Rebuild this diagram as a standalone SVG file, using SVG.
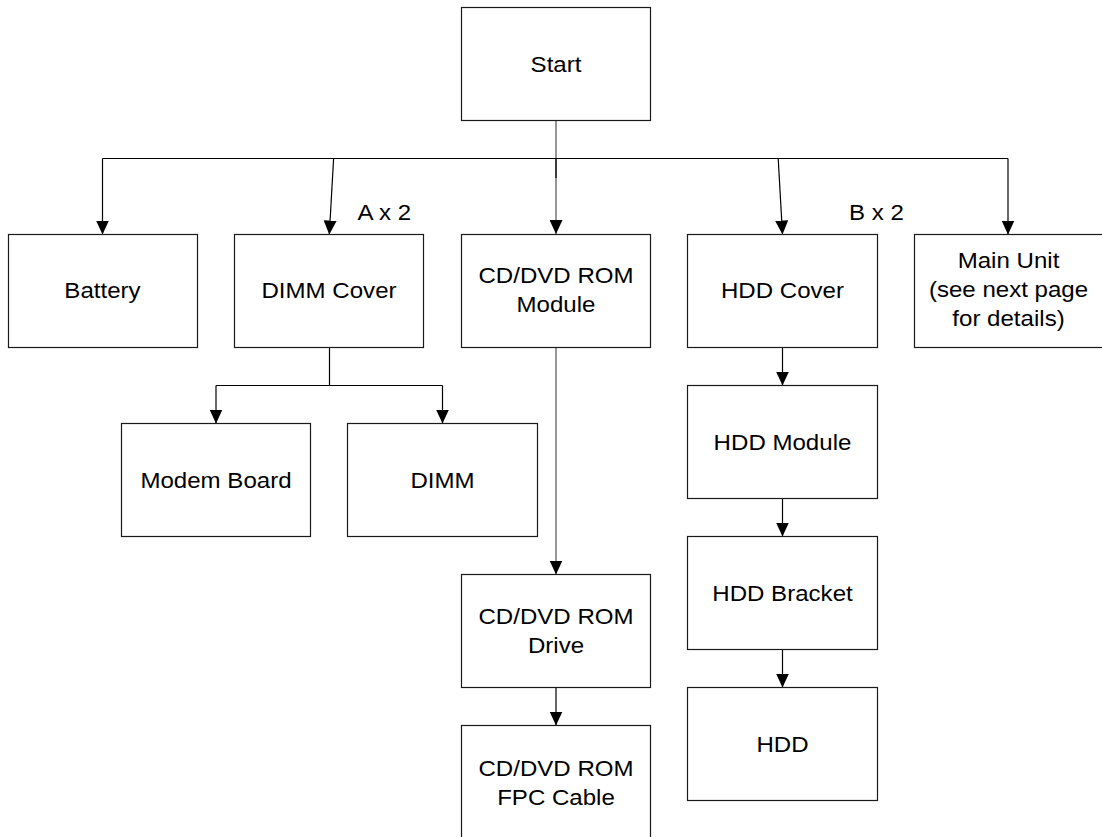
<svg xmlns="http://www.w3.org/2000/svg" width="1102" height="837" viewBox="0 0 1102 837">
<style>
.box{fill:#fff;stroke:#1a1a1a;stroke-width:1.2}
.lbl{font-family:"Liberation Sans",Arial,sans-serif;font-size:21.5px;fill:#000;text-anchor:middle}
.note{font-family:"Liberation Sans",Arial,sans-serif;font-size:21.5px;fill:#000}
.ln{fill:none;stroke:#000;stroke-width:1.2}
.lg{fill:none;stroke:#6a6a6a;stroke-width:1.4}
</style>
<defs>
<marker id="ah" viewBox="0 0 14 13" refX="14" refY="6.5" markerWidth="14" markerHeight="13" markerUnits="userSpaceOnUse" orient="auto">
<path d="M0,0 L14,6.5 L0,13 z" fill="#000"/>
</marker>
</defs>
<rect width="1102" height="837" fill="#fff"/>
<g id="connectors">
<path class="lg" d="M556,120.5 V234" marker-end="url(#ah)"/>
<path class="ln" d="M556,158.5 V178" stroke-width="2"/>
<path class="ln" d="M102.5,158.5 H1008"/>
<path class="ln" d="M102.5,158.5 V234.5" marker-end="url(#ah)"/>
<path class="ln" d="M333.6,158.5 L329.3,234.5" marker-end="url(#ah)"/>
<path class="ln" d="M778.2,158.5 L782.5,234.5" marker-end="url(#ah)"/>
<path class="ln" d="M1008,158.5 V234.5" marker-end="url(#ah)"/>
<path class="ln" d="M329.5,347.5 V385.5 M216,385.5 H442.5"/>
<path class="ln" d="M216,385.5 V423.5" marker-end="url(#ah)"/>
<path class="ln" d="M442.5,385.5 V423.5" marker-end="url(#ah)"/>
<path class="lg" d="M556,347.5 V574.5" marker-end="url(#ah)"/>
<path class="ln" d="M556,687.5 V725.5" marker-end="url(#ah)"/>
<path class="ln" d="M782.5,347.5 V385.5" marker-end="url(#ah)"/>
<path class="ln" d="M782.5,498.5 V536.5" marker-end="url(#ah)"/>
<path class="ln" d="M782.5,649.5 V687.5" marker-end="url(#ah)"/>
</g>
<g id="start"><rect class="box" x="461.5" y="7.5" width="189" height="113"/>
<text class="lbl" transform="translate(556 0) scale(1.12 1)" x="0" y="71.7">Start</text></g>
<g id="battery"><rect class="box" x="8.5" y="234.5" width="189" height="113"/>
<text class="lbl" transform="translate(102.5 0) scale(1.12 1)" x="0" y="298">Battery</text></g>
<g id="dimm-cover"><rect class="box" x="234.5" y="234.5" width="189" height="113"/>
<text class="lbl" transform="translate(329 0) scale(1.12 1)" x="0" y="298">DIMM Cover</text></g>
<g id="cd-module"><rect class="box" x="461.5" y="234.5" width="189" height="113"/>
<text class="lbl" transform="translate(556 0) scale(1.12 1)" y="283.5"><tspan x="0">CD/DVD ROM</tspan><tspan x="0" y="312.5">Module</tspan></text></g>
<g id="hdd-cover"><rect class="box" x="687.5" y="234.5" width="190" height="113"/>
<text class="lbl" transform="translate(782.5 0) scale(1.12 1)" x="0" y="298">HDD Cover</text></g>
<g id="main-unit"><rect class="box" x="914.5" y="234.5" width="190" height="113"/>
<text class="lbl" transform="translate(1008.5 0) scale(1.12 1)" y="268.5"><tspan x="0">Main Unit</tspan><tspan x="0" y="297.5">(see next page</tspan><tspan x="0" y="326.5">for details)</tspan></text></g>
<g id="label-a"><text class="note" transform="translate(357.5 0) scale(1.12 1)" x="0" y="220">A x 2</text></g>
<g id="label-b"><text class="note" transform="translate(849 0) scale(1.12 1)" x="0" y="220">B x 2</text></g>
<g id="modem-board"><rect class="box" x="121.5" y="423.5" width="189" height="113"/>
<text class="lbl" transform="translate(216 0) scale(1.12 1)" x="0" y="488.3">Modem Board</text></g>
<g id="dimm"><rect class="box" x="347.5" y="423.5" width="190" height="113"/>
<text class="lbl" transform="translate(442.5 0) scale(1.12 1)" x="0" y="488.3">DIMM</text></g>
<g id="hdd-module"><rect class="box" x="687.5" y="385.5" width="190" height="113"/>
<text class="lbl" transform="translate(782.5 0) scale(1.12 1)" x="0" y="450">HDD Module</text></g>
<g id="hdd-bracket"><rect class="box" x="687.5" y="536.5" width="190" height="113"/>
<text class="lbl" transform="translate(782.5 0) scale(1.12 1)" x="0" y="601">HDD Bracket</text></g>
<g id="hdd"><rect class="box" x="687.5" y="687.5" width="190" height="113"/>
<text class="lbl" transform="translate(782.5 0) scale(1.12 1)" x="0" y="752">HDD</text></g>
<g id="cd-drive"><rect class="box" x="461.5" y="574.5" width="189" height="113"/>
<text class="lbl" transform="translate(556 0) scale(1.12 1)" y="624.3"><tspan x="0">CD/DVD ROM</tspan><tspan x="0" y="653.3">Drive</tspan></text></g>
<g id="cd-fpc"><rect class="box" x="461.5" y="725.5" width="189" height="125"/>
<text class="lbl" transform="translate(556 0) scale(1.12 1)" y="776"><tspan x="0">CD/DVD ROM</tspan><tspan x="0" y="805">FPC Cable</tspan></text></g>
</svg>
